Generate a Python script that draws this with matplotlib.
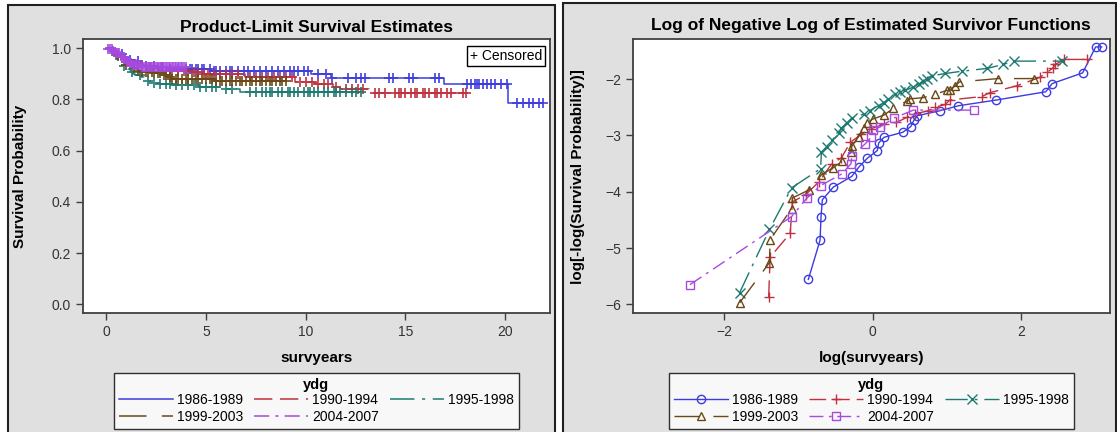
import numpy as np
import matplotlib
matplotlib.use('Agg')
import matplotlib.pyplot as plt
from matplotlib.patches import Rectangle

plt.rcParams['font.family'] = ['Liberation Sans', 'DejaVu Sans']

groups = ['1986-1989', '1990-1994', '1995-1998', '1999-2003', '2004-2007']
colors = ['#3c3ce0', '#c0303f', '#1c7a70', '#6a4818', '#a64ae0']
dashes = ['-', (0, (12, 5)), (0, (16, 5, 2, 5)), (0, (18, 10)), (0, (10, 4, 2, 4))]
markers = ['o', '+', 'x', '^', 's']

# log(survyears) and log(-log(S)) at each event time
logt_8689 = [-0.866, -0.708, -0.695, -0.677, -0.529, -0.282, -0.179, -0.071, 0.063, 0.082,
             0.154, 0.405, 0.513, 0.558, 0.602, 0.908, 1.155, 1.662, 2.331, 2.420,
             2.829, 3.004, 3.085]
lls_8689 = [-5.558, -4.862, -4.449, -4.142, -3.918, -3.729, -3.552, -3.405, -3.269, -3.133,
            -3.033, -2.945, -2.844, -2.726, -2.650, -2.561, -2.473, -2.372, -2.225, -2.078,
            -1.889, -1.428, -1.428]

logt_9094 = [-1.40, -1.38, -1.11, -1.08, -0.90, -0.72, -0.55, -0.42, -0.30, -0.15,
             -0.02, 0.15, 0.32, 0.46, 0.57, 0.75, 0.84, 0.98, 1.04, 1.47,
             1.58, 1.94, 2.25, 2.35, 2.43, 2.46, 2.58, 2.89]
lls_9094 = [-5.87, -5.16, -4.74, -4.18, -4.05, -3.82, -3.50, -3.40, -3.12, -2.98,
            -2.88, -2.80, -2.77, -2.68, -2.62, -2.56, -2.50, -2.45, -2.37, -2.31,
            -2.24, -2.12, -1.97, -1.88, -1.80, -1.74, -1.65, -1.65]

logt_9598 = [-1.79, -1.39, -1.09, -0.70, -0.69, -0.62, -0.55, -0.45, -0.42, -0.35,
             -0.28, -0.12, -0.04, 0.08, 0.15, 0.21, 0.30, 0.37, 0.44, 0.55,
             0.63, 0.68, 0.73, 0.80, 0.98, 1.20, 1.54, 1.76, 1.90, 2.55]
lls_9598 = [-5.79, -4.67, -3.93, -3.59, -3.30, -3.20, -3.09, -2.95, -2.87, -2.78,
            -2.69, -2.62, -2.56, -2.47, -2.42, -2.35, -2.26, -2.22, -2.20, -2.14,
            -2.08, -2.03, -1.99, -1.94, -1.90, -1.86, -1.81, -1.74, -1.68, -1.68]

logt_9903 = [-1.79, -1.39, -1.38, -1.09, -1.08, -0.86, -0.69, -0.54, -0.41, -0.29,
             -0.28, -0.19, -0.12, -0.08, 0.00, 0.15, 0.28, 0.46, 0.50, 0.68,
             0.84, 1.00, 1.04, 1.11, 1.17, 1.69, 2.18]
lls_9903 = [-5.97, -5.26, -4.85, -4.30, -4.11, -3.97, -3.70, -3.58, -3.46, -3.30,
            -3.19, -3.02, -2.86, -2.78, -2.71, -2.64, -2.52, -2.39, -2.35, -2.33,
            -2.27, -2.20, -2.20, -2.12, -2.05, -1.99, -1.99]

logt_0407 = [-2.46, -1.09, -0.89, -0.70, -0.41, -0.29, -0.28, -0.10, -0.02, 0.00,
             0.10, 0.29, 0.55, 1.37]
lls_0407 = [-5.65, -4.44, -4.12, -3.89, -3.68, -3.50, -3.36, -3.15, -3.03, -2.91,
            -2.85, -2.69, -2.55, -2.55]

# censored observation times (years)
cens_8689 = [0.8, 1.2, 1.6, 2.0, 2.4, 2.8, 3.2, 3.6, 4.0, 4.2, 4.3, 4.5, 4.6, 4.8, 4.9,
             5.2, 5.4, 5.5, 5.7, 6.0, 6.2, 6.3, 6.6, 6.9, 7.1, 7.4, 7.7, 8.0, 8.3, 8.6,
             8.9, 9.2, 9.4, 9.6, 9.9, 10.1, 10.6, 11.0, 11.3, 12.1, 12.5, 12.8, 13.0,
             14.2, 14.4, 15.2, 15.4, 16.5, 16.7, 18.1, 18.3, 18.5, 18.6, 18.7, 18.9,
             19.1, 19.3, 19.5, 19.8, 20.1, 20.6, 20.9, 21.2, 21.4, 21.7, 21.9]
cens_9094 = [0.6, 1.0, 1.4, 1.8, 2.2, 2.6, 3.0, 3.3, 3.6, 3.9, 4.1, 4.4, 4.6, 4.9, 5.1,
             5.4, 5.7, 6.0, 6.3, 6.6, 7.2, 7.5, 7.8, 8.1, 8.4, 8.7, 9.0, 9.3, 9.7, 10.0,
             10.3, 10.6, 10.9, 11.1, 11.5, 12.0, 12.3, 12.6, 12.9, 13.5, 13.7, 14.0,
             14.5, 14.7, 14.8, 15.0, 15.3, 15.5, 15.6, 15.9, 16.0, 16.2, 16.5, 16.6,
             16.8, 17.1, 17.3, 17.9, 18.05]
cens_9598 = [0.5, 0.9, 1.3, 1.7, 2.1, 2.4, 2.7, 3.0, 3.2, 3.5, 3.8, 4.1, 4.4, 4.7, 5.0,
             5.3, 5.5, 6.0, 6.3, 7.2, 7.5, 7.8, 8.0, 8.2, 8.3, 8.6, 8.8, 9.1, 9.2, 9.4,
             9.6, 9.9, 10.1, 10.2, 10.4, 10.6, 10.9, 11.1, 11.4, 11.5, 11.7, 12.0,
             12.3, 12.5, 12.76]
cens_9903 = [0.6, 1.0, 1.4, 1.6, 1.8, 2.0, 2.1, 2.3, 2.4, 2.6, 2.7, 2.9, 3.0, 3.2, 3.3,
             3.5, 3.6, 3.8, 4.0, 4.1, 4.3, 4.5, 4.6, 4.8, 5.0, 5.2, 5.3, 5.5, 5.7, 5.8,
             6.0, 6.2, 6.3, 6.5, 6.7, 6.8, 7.0, 7.2, 7.3, 7.5, 7.7, 7.8, 8.0, 8.2,
             8.3, 8.5, 8.7, 8.8, 9.0]
cens_0407 = [0.1, 0.2, 0.3, 0.35, 0.45, 0.5, 0.6, 0.65, 0.75, 0.8, 0.9, 0.95, 1.05,
             1.1, 1.2, 1.25, 1.35, 1.4, 1.5, 1.55, 1.65, 1.7, 1.8, 1.85, 1.95, 2.0,
             2.1, 2.15, 2.25, 2.3, 2.4, 2.45, 2.55, 2.6, 2.7, 2.75, 2.85, 2.9, 3.0,
             3.05, 3.15, 3.2, 3.3, 3.35, 3.45, 3.5, 3.6, 3.65, 3.75, 3.8, 3.9, 3.98]

logt_all = [logt_8689, logt_9094, logt_9598, logt_9903, logt_0407]
lls_all = [lls_8689, lls_9094, lls_9598, lls_9903, lls_0407]
cens_all = [cens_8689, cens_9094, cens_9598, cens_9903, cens_0407]

W, H = 1117, 432
fig = plt.figure(figsize=(W / 100, H / 100), dpi=100)

# grey panels with dark borders
for x0, x1, ytop in [(7.5, 555, 5), (563.5, 1116, 2.7)]:
    fig.add_artist(Rectangle((x0 / W, -0.05), (x1 - x0) / W, 1.05 - ytop / H,
                             transform=fig.transFigure, facecolor='#e0e0e0',
                             edgecolor='#202020', lw=1.5, zorder=-10))

ax1 = fig.add_axes([82.9 / W, 0.2748, 467.1 / W, 0.6343])
ax2 = fig.add_axes([632.8 / W, 0.2748, 477.1 / W, 0.6343])

for i in range(5):
    t = np.exp(np.array(logt_all[i]))
    s = np.exp(-np.exp(np.array(lls_all[i])))
    tt = np.r_[0.0, t]
    ss = np.r_[1.0, s]
    ax1.step(tt, ss, where='post', color=colors[i], lw=1.1, linestyle=dashes[i],
             label=groups[i])
    c = np.array(cens_all[i])
    idx = np.searchsorted(tt, c, side='right') - 1
    ax1.plot(c, ss[idx], linestyle='none', marker='+', ms=7, mew=1.4,
             color=colors[i], alpha=0.85)

    ms = 7 if markers[i] in '+x' else 6
    ax2.plot(logt_all[i], lls_all[i], color=colors[i], lw=1, linestyle=dashes[i],
             marker=markers[i], ms=ms, mfc='none', mec=colors[i], mew=1,
             label=groups[i])

ax1.set_xlim(-1.18, 22.26)
ax1.set_ylim(-0.035, 1.035)
ax1.set_xticks([0, 5, 10, 15, 20])
ax1.set_yticks([0.0, 0.2, 0.4, 0.6, 0.8, 1.0])
ax1.set_yticklabels(['0.0', '0.2', '0.4', '0.6', '0.8', '1.0'])
ax1.set_title('Product-Limit Survival Estimates', fontsize=12.5, fontweight='bold', pad=5.5)
ax1.set_xlabel('survyears', fontsize=11, fontweight='bold')
ax1.set_ylabel('Survival Probability', fontsize=11, fontweight='bold')
ax1.text(0.984, 0.965, '+ Censored', transform=ax1.transAxes, ha='right', va='top',
         fontsize=10, bbox=dict(boxstyle='square,pad=0.2', fc='white', ec='black', lw=1))

ax2.set_xlim(-3.23, 3.196)
ax2.set_ylim(-6.159, -1.292)
ax2.set_xticks([-2, 0, 2])
ax2.set_yticks([-6, -5, -4, -3, -2])
ax2.set_title('Log of Negative Log of Estimated Survivor Functions', fontsize=12.5,
              fontweight='bold', pad=6.5)
ax2.set_xlabel('log(survyears)', fontsize=11, fontweight='bold')
ax2.set_ylabel('log[-log(Survival Probability)]', fontsize=11, fontweight='bold')

# legend filled row by row, as in the reference
order = [0, 3, 1, 4, 2]
for ax, lx in [(ax1, -0.120), (ax2, -0.100)]:
    ax.set_facecolor('white')
    for sp in ax.spines.values():
        sp.set_color('#404040')
        sp.set_linewidth(1.3)
    ax.tick_params(direction='out', length=5, width=1, color='#404040',
                   labelsize=10, labelcolor='#333333')
    ax.xaxis.set_label_coords(0.5, -0.138)
    ax.yaxis.set_label_coords(lx, 0.5)
    h, l = ax.get_legend_handles_labels()
    leg = ax.legend([h[k] for k in order], [l[k] for k in order],
                    loc='upper center', bbox_to_anchor=(0.5, -0.217), ncol=3,
                    fontsize=10, title='ydg', title_fontproperties={'weight': 'bold', 'size': 10.5},
                    frameon=True, fancybox=False, edgecolor='black', borderaxespad=0,
                    handlelength=3.9, handletextpad=0.3, columnspacing=0.76,
                    labelspacing=0.2, borderpad=0.35)
    leg.get_frame().set_linewidth(1)
    leg._legend_box.sep = 1

fig.savefig('out.png', dpi=100)
